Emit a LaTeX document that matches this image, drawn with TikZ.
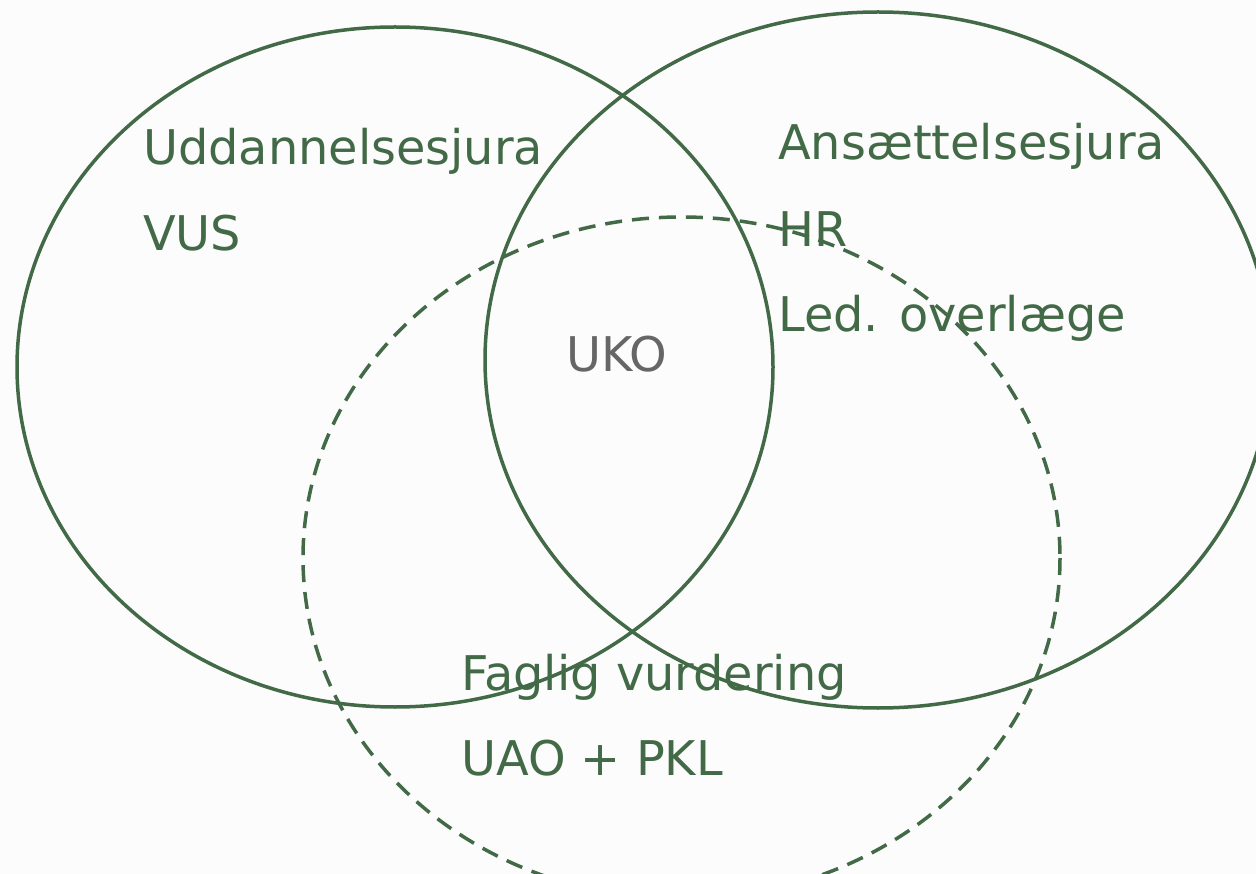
\documentclass[tikz,border=0pt]{standalone}
\usepackage{fontspec}
\setmainfont{DejaVu Sans}
\definecolor{vgreen}{RGB}{67,106,71}
\definecolor{vgray}{RGB}{102,102,102}
\begin{document}
\begin{tikzpicture}[x=1pt,y=-1pt,
  ring/.style={draw=vgreen,line width=3.5pt},
  dashring/.style={draw=vgreen,line width=3.5pt,dash pattern=on 17pt off 10pt},
  lbl/.style={text=vgreen,anchor=base west,inner sep=0pt,font=\fontsize{47.8}{57}\selectfont},
  core/.style={text=vgray,anchor=base west,inner sep=0pt,font=\fontsize{47.8}{57}\selectfont}]
\useasboundingbox (0,0) rectangle (1256,874);
\clip (0,0) rectangle (1256,874);
\fill[white!99!black] (0,0) rectangle (1256,874);
\draw[ring] (395,367) ellipse [x radius=378,y radius=340];
\draw[ring] (878,360) ellipse [x radius=393,y radius=348];
\draw[dashring] (681.5,558) ellipse [x radius=378.5,y radius=341];
\node[lbl] (udd) at (143,165) {Uddannelsesjura};
\node[lbl] (vus) at (143,251) {VUS};
\node[lbl] (ans) at (778,160) {Ansættelsesjura};
\node[lbl] (hr) at (778,247) {HR};
\node[lbl] (led) at (778,332) {Led. overlæge};
\node[core] (uko) at (566,372) {UKO};
\node[lbl] (fag) at (461,690) {Faglig vurdering};
\node[lbl] (uao) at (461,775) {UAO + PKL};
\end{tikzpicture}
\end{document}
